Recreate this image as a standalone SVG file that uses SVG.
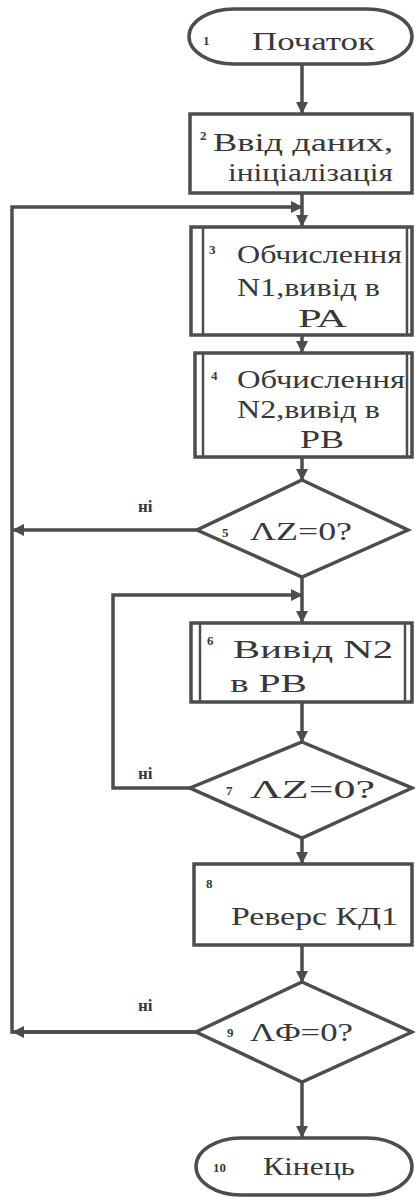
<svg xmlns="http://www.w3.org/2000/svg" width="415" height="1199" viewBox="0 0 415 1199">
  <style>
    .shape { fill: none; stroke: #4d4d4d; stroke-width: 3.5; }
    .inner { fill: none; stroke: #4d4d4d; stroke-width: 2.5; }
    .line { fill: none; stroke: #4d4d4d; stroke-width: 3.5; }
    .lbl { font-family: "Liberation Serif", "Times New Roman", serif; fill: #383838; font-size: 25px; }
    .num { font-family: "Liberation Serif", "Times New Roman", serif; fill: #383838; font-size: 13px; font-weight: bold; }
    .no { font-family: "Liberation Serif", "Times New Roman", serif; fill: #383838; font-size: 17px; font-weight: bold; }
  </style>
  <defs>
    <marker id="arrow" viewBox="0 0 12 12" refX="11" refY="6" markerWidth="12" markerHeight="12" markerUnits="userSpaceOnUse" orient="auto">
      <path d="M0,0 L12,6 L0,12 Z" fill="#4d4d4d"/>
    </marker>
  </defs>
  <rect width="415" height="1199" fill="#ffffff"/>

  <!-- connectors -->
  <g id="connectors">
    <path class="line" d="M302,64 V113" marker-end="url(#arrow)"/>
    <path class="line" d="M302,193 V226" marker-end="url(#arrow)"/>
    <path class="line" d="M196,1032 H12 V207 H302" marker-end="url(#arrow)"/>
    <path class="line" d="M196,1032 H13" marker-end="url(#arrow)"/>
    <path class="line" d="M197,530 H13" marker-end="url(#arrow)"/>
    <path class="line" d="M302,335 V352" marker-end="url(#arrow)"/>
    <path class="line" d="M302,457 V480" marker-end="url(#arrow)"/>
    <path class="line" d="M302,577 V622" marker-end="url(#arrow)"/>
    <path class="line" d="M190,788 H113 V595 H302" marker-end="url(#arrow)"/>
    <path class="line" d="M302,702 V742" marker-end="url(#arrow)"/>
    <path class="line" d="M302,838 V863" marker-end="url(#arrow)"/>
    <path class="line" d="M302,945 V982" marker-end="url(#arrow)"/>
    <path class="line" d="M302,1082 V1137" marker-end="url(#arrow)"/>
    <text class="no" x="138" y="512">ні</text>
    <text class="no" x="138" y="779">ні</text>
    <text class="no" x="138" y="1011">ні</text>
  </g>

  <!-- 1: start -->
  <g id="n1">
    <rect class="shape" x="189" y="9" width="223" height="55" rx="45" ry="27.5"/>
    <text class="num" x="203" y="45">1</text>
    <text class="lbl" x="252" y="50" textLength="123" lengthAdjust="spacingAndGlyphs">Початок</text>
  </g>

  <!-- 2: input, initialisation -->
  <g id="n2">
    <rect class="shape" x="190" y="114" width="222" height="79" stroke-width="4"/>
    <text class="num" x="200" y="140">2</text>
    <text class="lbl" x="213" y="151" textLength="180" lengthAdjust="spacingAndGlyphs">Ввід  даних,</text>
    <text class="lbl" x="228" y="181" textLength="165" lengthAdjust="spacingAndGlyphs">ініціалізація</text>
  </g>

  <!-- 3: compute N1 -->
  <g id="n3">
    <rect class="shape" x="191" y="227" width="221" height="108"/>
    <line class="inner" x1="203" y1="227" x2="203" y2="335"/>
    <line class="inner" x1="407" y1="227" x2="407" y2="335"/>
    <text class="num" x="209" y="254">3</text>
    <text class="lbl" x="237" y="263" textLength="165" lengthAdjust="spacingAndGlyphs">Обчислення</text>
    <text class="lbl" x="237" y="296" textLength="143" lengthAdjust="spacingAndGlyphs">N1,вивід в</text>
    <text class="lbl" x="298" y="327" textLength="49" lengthAdjust="spacingAndGlyphs">РА</text>
  </g>

  <!-- 4: compute N2 -->
  <g id="n4">
    <rect class="shape" x="195" y="353" width="217" height="104"/>
    <line class="inner" x1="203" y1="353" x2="203" y2="457"/>
    <line class="inner" x1="407" y1="353" x2="407" y2="457"/>
    <text class="num" x="211" y="380">4</text>
    <text class="lbl" x="237" y="388" textLength="168" lengthAdjust="spacingAndGlyphs">Обчислення</text>
    <text class="lbl" x="237" y="418" textLength="143" lengthAdjust="spacingAndGlyphs">N2,вивід в</text>
    <text class="lbl" x="300" y="448" textLength="44" lengthAdjust="spacingAndGlyphs">РВ</text>
  </g>

  <!-- 5: decision -->
  <g id="n5">
    <polygon class="shape" points="302,480 408,530 302,577 197,530"/>
    <text class="num" x="222" y="537">5</text>
    <text class="lbl" x="250" y="540" textLength="102" lengthAdjust="spacingAndGlyphs">ΛZ=0?</text>
  </g>

  <!-- 6: output N2 -->
  <g id="n6">
    <rect class="shape" x="191" y="623" width="221" height="79"/>
    <line class="inner" x1="200" y1="623" x2="200" y2="702"/>
    <line class="inner" x1="405" y1="623" x2="405" y2="702"/>
    <text class="num" x="207" y="645">6</text>
    <text class="lbl" x="233" y="658" textLength="160" lengthAdjust="spacingAndGlyphs">Вивід N2</text>
    <text class="lbl" x="230" y="692" textLength="77" lengthAdjust="spacingAndGlyphs">в РВ</text>
  </g>

  <!-- 7: decision -->
  <g id="n7">
    <polygon class="shape" points="302,742 412,788 302,838 190,788"/>
    <text class="num" x="226" y="795">7</text>
    <text class="lbl" x="250" y="798" textLength="125" lengthAdjust="spacingAndGlyphs">ΛZ=0?</text>
  </g>

  <!-- 8: reverse -->
  <g id="n8">
    <rect class="shape" x="194" y="864" width="218" height="81" stroke-width="4"/>
    <text class="num" x="206" y="888">8</text>
    <text class="lbl" x="231" y="925" textLength="167" lengthAdjust="spacingAndGlyphs">Реверс КД1</text>
  </g>

  <!-- 9: decision -->
  <g id="n9">
    <polygon class="shape" points="302,982 412,1032 302,1082 196,1032"/>
    <text class="num" x="227" y="1037">9</text>
    <text class="lbl" x="250" y="1041" textLength="103" lengthAdjust="spacingAndGlyphs">ΛΦ=0?</text>
  </g>

  <!-- 10: end -->
  <g id="n10">
    <rect class="shape" x="196" y="1138" width="216" height="57" rx="45" ry="28.5"/>
    <text class="num" x="213" y="1172">10</text>
    <text class="lbl" x="263" y="1175" textLength="92" lengthAdjust="spacingAndGlyphs">Кінець</text>
  </g>
</svg>
